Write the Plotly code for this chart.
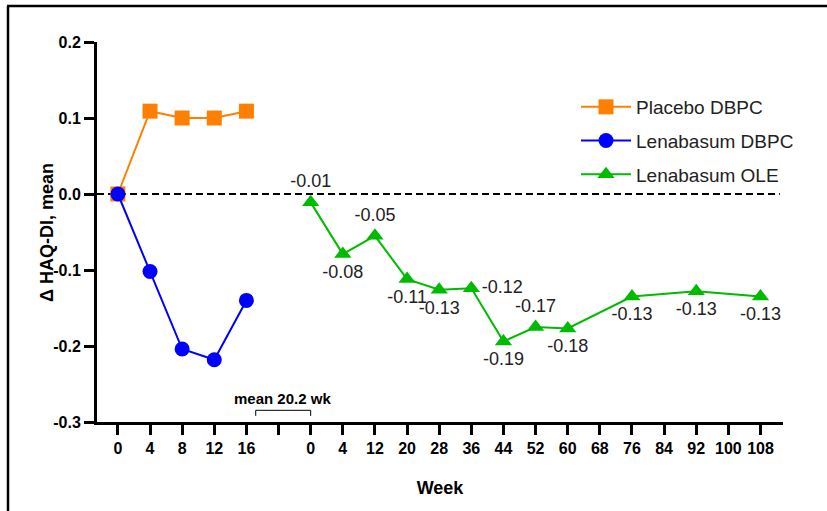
import plotly.graph_objects as go

# ---- data ----
dbpc_axis_weeks = [0, 4, 8, 12, 16]
ole_axis_weeks = [0, 4, 12, 20, 28, 36, 44, 52, 60, 68, 76, 84, 92, 100, 108]
tick_labels = [str(w) for w in dbpc_axis_weeks] + [""] + [str(w) for w in ole_axis_weeks]

placebo_weeks = [0, 4, 8, 12, 16]
placebo_vals = [0.0, 0.109, 0.100, 0.100, 0.109]

lena_dbpc_weeks = [0, 4, 8, 12, 16]
lena_dbpc_vals = [0.0, -0.102, -0.204, -0.218, -0.140]

ole_weeks = [0, 4, 12, 20, 28, 36, 44, 52, 60, 76, 92, 108]
ole_vals = [-0.011, -0.079, -0.055, -0.112, -0.126, -0.124, -0.194, -0.175, -0.177, -0.135, -0.128, -0.135]
ole_labels = ["-0.01", "-0.08", "-0.05", "-0.11", "-0.13", "-0.12", "-0.19", "-0.17", "-0.18", "-0.13", "-0.13", "-0.13"]
ole_label_pos = ["top center", "bottom center", "top center", "bottom center", "bottom center",
                 "middle right", "bottom center", "top center", "bottom center", "bottom center",
                 "bottom center", "bottom center"]

y_ticks = [0.2, 0.1, 0.0, -0.1, -0.2, -0.3]
y_tick_text = ["0.2", "0.1", "0.0", "-0.1", "-0.2", "-0.3"]

# positions on the broken axis
def dbpc_pos(w):
    return dbpc_axis_weeks.index(w)

def ole_pos(w):
    return len(dbpc_axis_weeks) + 1 + ole_axis_weeks.index(w)

ORANGE = "#FF7F00"
BLUE = "#0000FF"
GREEN = "#00BB00"
FONT = "Arial, Liberation Sans, sans-serif"

fig = go.Figure()

fig.add_trace(go.Scatter(
    x=[dbpc_pos(w) for w in placebo_weeks], y=placebo_vals,
    mode="lines+markers", name="Placebo DBPC", legendgroup="a",
    line=dict(color=ORANGE, width=2),
    marker=dict(symbol="square", size=15, color=ORANGE),
))
fig.add_trace(go.Scatter(
    x=[dbpc_pos(w) for w in lena_dbpc_weeks], y=lena_dbpc_vals,
    mode="lines+markers", name="Lenabasum DBPC", legendgroup="b",
    line=dict(color=BLUE, width=2),
    marker=dict(symbol="circle", size=15, color=BLUE),
))
fig.add_trace(go.Scatter(
    x=[ole_pos(w) for w in ole_weeks], y=ole_vals,
    mode="lines+markers+text", name="Lenabasum OLE", legendgroup="c",
    line=dict(color=GREEN, width=2),
    marker=dict(symbol="triangle-up", size=15, color=GREEN),
    text=ole_labels, textposition=ole_label_pos,
    textfont=dict(family=FONT, size=18, color="#222222"),
))

n_ticks = len(tick_labels)
x_range = [-0.65, n_ticks - 1 + 0.7]

# zero dashed reference line
fig.add_shape(type="line", xref="x", yref="y", x0=x_range[0], x1=n_ticks - 1 + 0.6, y0=0, y1=0,
              line=dict(color="black", width=2, dash="7px,4px"), layer="below")

# bracket for the gap
fig.add_shape(type="path", xref="x", yref="y",
              path="M 4.29,-0.292 L 4.29,-0.2846 L 6.0,-0.2846 L 6.0,-0.292",
              line=dict(color="black", width=1))
fig.add_annotation(x=5.13, y=-0.2688, xref="x", yref="y", text="<b>mean 20.2 wk</b>",
                   showarrow=False, font=dict(family=FONT, size=15, color="black"))

# outer frame (left and top edges)
W, H = 827, 511
ml, mr, mt, mb = 97, 44, 42, 89
pw, ph = W - ml - mr, H - mt - mb
def px(xp):
    return (xp - ml) / pw
def py(yp):
    return 1 - (yp - mt) / ph
fig.add_shape(type="line", xref="paper", yref="paper", x0=px(8), x1=px(8), y0=py(6), y1=py(515),
              line=dict(color="black", width=2.5))
fig.add_shape(type="line", xref="paper", yref="paper", x0=px(7), x1=px(830), y0=py(6), y1=py(6),
              line=dict(color="black", width=2.5))

# y-axis title
fig.add_annotation(x=px(47), y=py(233), xref="paper", yref="paper", text="<b>Δ HAQ-DI, mean</b>",
                   textangle=-90, showarrow=False, xanchor="center", yanchor="middle",
                   font=dict(family=FONT, size=18, color="black"))

fig.update_layout(
    width=W, height=H,
    margin=dict(l=ml, r=mr, t=mt, b=mb),
    plot_bgcolor="white", paper_bgcolor="white",
    font=dict(family=FONT, color="black"),
    showlegend=True,
    legend=dict(x=px(576), y=py(88), xanchor="left", yanchor="top",
                font=dict(family=FONT, size=19, color="#222222"),
                bgcolor="rgba(0,0,0,0)", tracegroupgap=6, itemwidth=50),
    xaxis=dict(range=x_range, tickmode="array", tickvals=list(range(n_ticks)), ticktext=tick_labels,
               showgrid=False, zeroline=False, showline=True, linecolor="black", linewidth=3,
               ticks="outside", ticklen=10, tickwidth=3, tickcolor="black",
               tickfont=dict(family=FONT, size=16, color="black", weight="bold"),
               title=dict(text="<b>Week</b>", font=dict(family=FONT, size=18), standoff=26)),
    yaxis=dict(range=[-0.3, 0.2], tickmode="array", tickvals=y_ticks, ticktext=y_tick_text,
               showgrid=False, zeroline=False, showline=True, linecolor="black", linewidth=3,
               ticks="outside", ticklen=10, tickwidth=3, tickcolor="black",
               tickfont=dict(family=FONT, size=16, color="black", weight="bold")),
)

fig.write_html("out.html")
